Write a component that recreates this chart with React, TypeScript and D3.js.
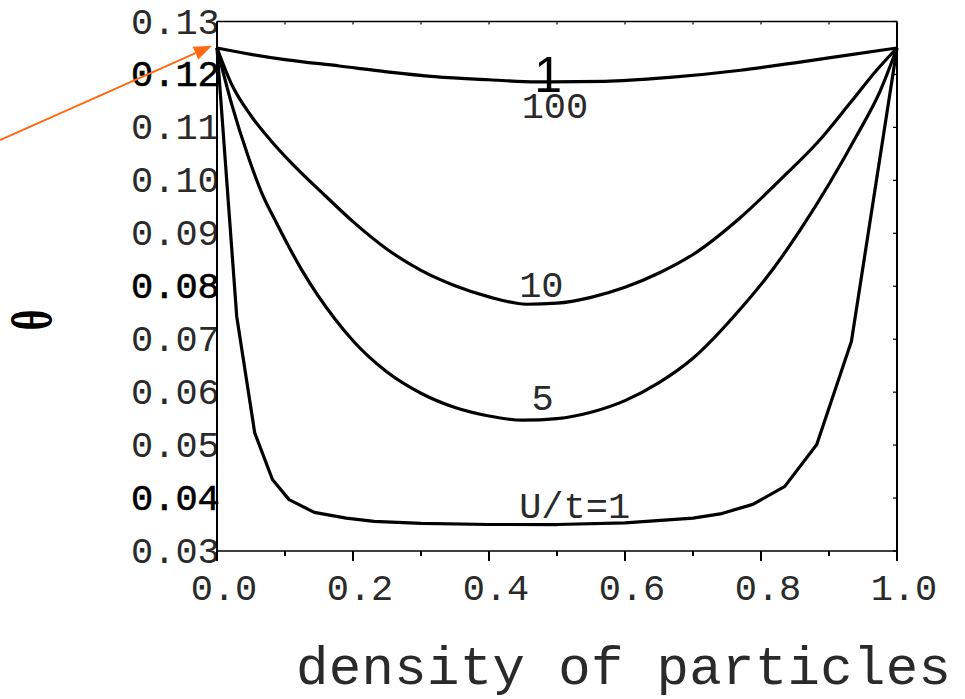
import React from "react";
import * as d3 from "d3";

// density of particles (x) and theta (y) for each U/t
const densityU1 = [0, 0.029, 0.0555, 0.0815, 0.106, 0.143, 0.19, 0.231, 0.3, 0.4, 0.5, 0.6, 0.7, 0.74, 0.788, 0.835, 0.882, 0.933, 1];
const thetaU1 = [0.125, 0.0743, 0.0523, 0.0435, 0.0397, 0.0373, 0.0362, 0.0356, 0.0352, 0.035, 0.035, 0.0353, 0.0362, 0.037, 0.0388, 0.0422, 0.0501, 0.0696, 0.125];

const densityU5 = [0, 0.022, 0.0456, 0.0662, 0.0853, 0.125, 0.1735, 0.2, 0.25, 0.3, 0.35, 0.4, 0.45, 0.5, 0.55, 0.6, 0.65, 0.7, 0.769, 0.818, 0.857, 0.901, 0.941, 0.975, 1];
const thetaU5 = [0.125, 0.1142, 0.1046, 0.0975, 0.0925, 0.083, 0.0738, 0.0697, 0.0638, 0.0598, 0.0571, 0.0555, 0.0547, 0.055, 0.0562, 0.0584, 0.0618, 0.0664, 0.0756, 0.0833, 0.0905, 0.0995, 0.1085, 0.1168, 0.125];

const densityU10 = [0, 0.022, 0.05, 0.08, 0.11, 0.16, 0.2, 0.25, 0.3, 0.35, 0.4, 0.455, 0.5, 0.55, 0.6, 0.65, 0.7, 0.769, 0.833, 0.882, 0.931, 0.97, 1];
const thetaU10 = [0.125, 0.118, 0.1122, 0.1074, 0.1032, 0.097, 0.0922, 0.087, 0.083, 0.0801, 0.078, 0.0766, 0.0768, 0.0779, 0.0798, 0.0825, 0.086, 0.0929, 0.1007, 0.107, 0.1146, 0.1208, 0.125];

const densityU100 = [0, 0.05, 0.1, 0.18, 0.25, 0.32, 0.4, 0.47, 0.57, 0.67, 0.77, 0.85, 0.93, 1];
const thetaU100 = [0.125, 0.1238, 0.1228, 0.1216, 0.1205, 0.1196, 0.119, 0.1186, 0.1187, 0.1195, 0.1208, 0.1222, 0.1237, 0.125];

const xTickValues = [0, 0.1, 0.2, 0.3, 0.4, 0.5, 0.6, 0.7, 0.8, 0.9, 1.0];
const xTickLabels = ["0.0", "0.2", "0.4", "0.6", "0.8", "1.0"];
const yTickValues = [0.03, 0.04, 0.05, 0.06, 0.07, 0.08, 0.09, 0.1, 0.11, 0.12, 0.13];
const yTickLabels = ["0.03", "0.04", "0.05", "0.06", "0.07", "0.08", "0.09", "0.10", "0.11", "0.12", "0.13"];
const boldYLabels = ["0.04", "0.08", "0.12"];

// curve annotations: text, density (centre), theta (baseline)
const curveLabelText = ["1", "100", "10", "5", "U/t=1"];
const curveLabelX = [0.487, 0.497, 0.477, 0.479, 0.526];
const curveLabelY = [0.1167, 0.1118, 0.078, 0.0567, 0.0363];

const W = 965;
const H = 699;
const plot = { left: 217, right: 897, top: 21.5, bottom: 551 };

const monoFont = "'Liberation Mono', 'DejaVu Sans Mono', monospace";
const textColor = "#2a2a2a";

export default function App() {
  const x = d3.scaleLinear().domain([0, 1]).range([plot.left, plot.right]);
  const y = d3.scaleLinear().domain([0.03, 0.13]).range([plot.bottom, plot.top]);

  const smooth = d3
    .line<[number, number]>()
    .x((d) => x(d[0]))
    .y((d) => y(d[1]))
    .curve(d3.curveMonotoneX);
  const straight = d3
    .line<[number, number]>()
    .x((d) => x(d[0]))
    .y((d) => y(d[1]));

  const zip = (a: number[], b: number[]) => a.map((v, i) => [v, b[i]] as [number, number]);

  const curves = [
    straight(zip(densityU1, thetaU1)),
    smooth(zip(densityU5, thetaU5)),
    smooth(zip(densityU10, thetaU10)),
    smooth(zip(densityU100, thetaU100)),
  ];

  // orange pointer toward the common end point at density 0
  const tipX = x(0) - 5;
  const tipY = y(0.1254);
  const startX = 0;
  const startY = 140;
  const ang = Math.atan2(tipY - startY, tipX - startX);
  const headLen = 18;
  const headHalf = 7;
  const bx = tipX - headLen * Math.cos(ang);
  const by = tipY - headLen * Math.sin(ang);
  const head = [
    [tipX, tipY],
    [bx + headHalf * Math.sin(ang), by - headHalf * Math.cos(ang)],
    [bx - headHalf * Math.sin(ang), by + headHalf * Math.cos(ang)],
  ];

  return (
    <svg
      width={W}
      height={H}
      viewBox={`0 0 ${W} ${H}`}
      style={{ position: "absolute", left: 0, top: 0, background: "#fff" }}
    >
      <rect x={0} y={0} width={W} height={H} fill="#fff" />

      {/* y tick labels */}
      {yTickValues.map((v, i) => {
        const bold = boldYLabels.includes(yTickLabels[i]);
        return (
          <text
            key={"yl" + i}
            x={131}
            y={y(v) + 12}
            fontFamily={monoFont}
            fontSize={37}
            fill={bold ? "#000" : textColor}
            stroke={bold ? "#000" : "none"}
            strokeWidth={bold ? 0.6 : 0}
          >
            {yTickLabels[i]}
          </text>
        );
      })}

      {/* x tick labels */}
      {xTickLabels.map((t, i) => (
        <text
          key={"xl" + i}
          x={x(i * 0.2) + 7}
          y={600}
          textAnchor="middle"
          fontFamily={monoFont}
          fontSize={37}
          fill={textColor}
        >
          {t}
        </text>
      ))}

      {/* frame */}
      <line x1={plot.left} x2={plot.right} y1={plot.top} y2={plot.top} stroke="#000" strokeWidth={1.5} />
      <line x1={plot.left} x2={plot.right} y1={plot.bottom} y2={plot.bottom} stroke="#000" strokeWidth={1.5} />
      <line x1={plot.left} x2={plot.left} y1={plot.top} y2={plot.bottom} stroke="#000" strokeWidth={2} />
      <line x1={plot.right} x2={plot.right} y1={plot.top} y2={plot.bottom} stroke="#000" strokeWidth={2} />

      {/* bottom ticks (outward) */}
      {xTickValues.map((v, i) => (
        <line
          key={"bt" + i}
          x1={x(v)}
          x2={x(v)}
          y1={plot.bottom}
          y2={plot.bottom + (i % 2 === 0 ? 10 : 5)}
          stroke="#000"
          strokeWidth={2}
        />
      ))}
      {/* top ticks (inward) */}
      {xTickValues.map((v, i) => (
        <line key={"tt" + i} x1={x(v)} x2={x(v)} y1={plot.top} y2={plot.top + 3} stroke="#000" strokeWidth={1.2} />
      ))}
      {/* right ticks (inward) */}
      {yTickValues.map((v, i) => (
        <line key={"rt" + i} x1={plot.right} x2={plot.right - 4} y1={y(v)} y2={y(v)} stroke="#000" strokeWidth={1.2} />
      ))}

      {/* curves */}
      {curves.map((d, i) => (
        <path key={"c" + i} d={d || ""} fill="none" stroke="#000" strokeWidth={3.2} strokeLinejoin="round" />
      ))}

      {/* curve annotations */}
      {curveLabelText.map((t, i) => (
        <text
          key={"cl" + i}
          x={x(curveLabelX[i])}
          y={y(curveLabelY[i])}
          textAnchor="middle"
          fontFamily={i === 0 ? "'Liberation Sans', Arial, sans-serif" : monoFont}
          fontSize={i === 0 ? 50 : 37}
          fill={i === 0 ? "#000" : textColor}
        >
          {t}
        </text>
      ))}

      {/* axis titles */}
      <text
        x={296}
        y={684}
        fontFamily={monoFont}
        fontSize={54}
        fill={textColor}
        textLength={655}
        lengthAdjust="spacing"
      >
        density of particles
      </text>
      <text
        transform="translate(33, 320) rotate(-90) scale(0.72, 1)"
        textAnchor="middle"
        fontFamily="'Liberation Serif', 'DejaVu Serif', serif"
        fontWeight="bold"
        fontSize={56}
        fill="#000"
        dominantBaseline="central"
      >
        θ
      </text>

      {/* pointer arrow */}
      <line x1={startX} y1={startY} x2={bx} y2={by} stroke="#ff6a13" strokeWidth={2} />
      <polygon points={head.map((p) => p.join(",")).join(" ")} fill="#ff6a13" />
    </svg>
  );
}
